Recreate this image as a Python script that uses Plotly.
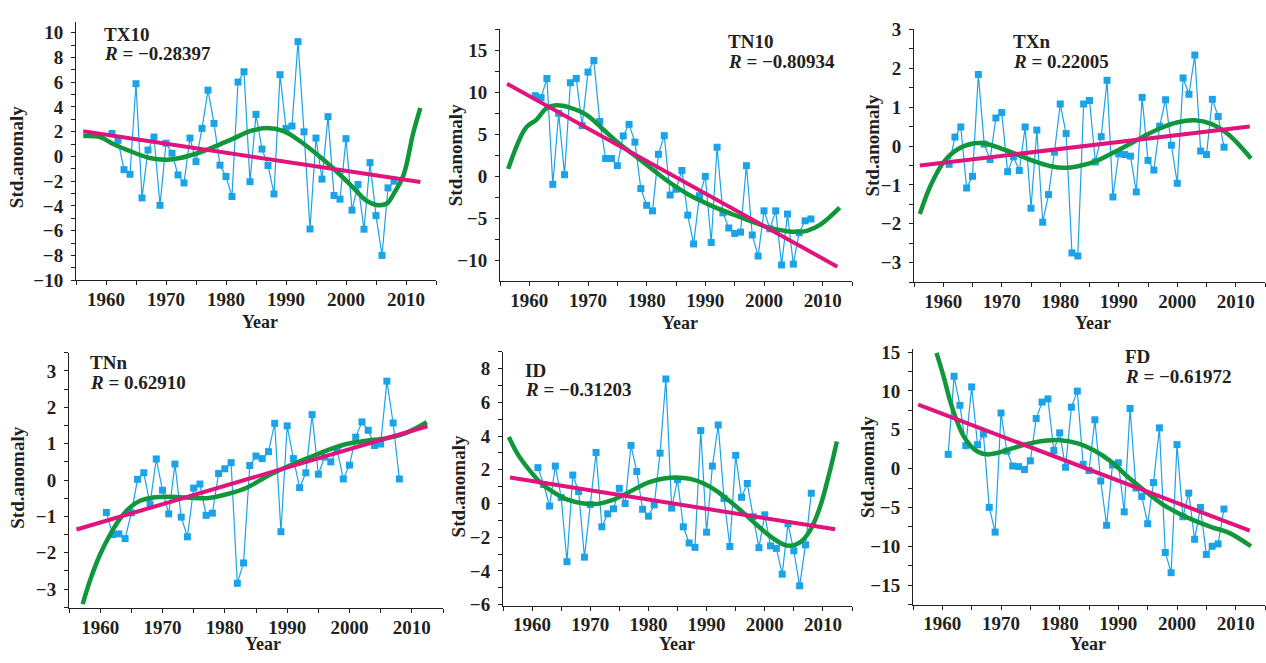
import plotly.graph_objects as go

W, H = 1266, 663

years = list(range(1961, 2009))

tx10 = [1.86, 1.3, -1.07, -1.44, 5.88, -3.35, 0.52, 1.57, -3.95, 1.07,
        0.26, -1.49, -2.14, 1.49, -0.42, 2.27, 5.36, 2.67, -0.7, -1.62,
        -3.24, 6.01, 6.85, -2.04, 3.4, 0.6, -0.73, -3.03, 6.61, 2.27,
        2.46, 9.28, 1.99, -5.86, 1.49, -1.83, 3.22, -3.16, -3.45, 1.44,
        -4.34, -2.27, -5.88, -0.5, -4.78, -8.0, -2.54, -2.0]
tn10 = [9.62, 9.39, 11.66, -0.92, 7.52, 0.23, 11.16, 11.66, 6.06, 12.42,
        13.8, 6.56, 2.15, 2.15, 1.3, 4.83, 6.21, 4.1, -1.42, -3.41,
        -4.07, 2.65, 4.87, -2.19, -1.5, 0.73, -4.57, -8.0, -2.27, 0.03,
        -7.83, 3.49, -4.3, -6.1, -6.75, -6.6, 1.3, -6.94, -9.44, -4.07,
        -6.2, -4.07, -10.5, -4.45, -10.4, -6.67, -5.25, -5.03]
txn = [-0.47, 0.23, 0.49, -1.08, -0.78, 1.84, 0.05, -0.35, 0.72, 0.86,
       -0.66, -0.28, -0.63, 0.49, -1.6, 0.41, -1.96, -1.25, -0.16, 1.08,
       0.32, -2.75, -2.83, 1.08, 1.17, -0.41, 0.24, 1.69, -1.31, -0.2,
       -0.22, -0.26, -1.18, 1.25, -0.37, -0.62, 0.51, 1.19, 0.02, -0.96,
       1.75, 1.33, 2.34, -0.13, -0.22, 1.2, 0.76, -0.03]
tnn = [-0.89, -1.5, -1.48, -1.61, -0.9, 0.02, 0.2, -0.66, 0.58, -0.28,
       -0.93, 0.44, -1.02, -1.56, -0.22, -0.11, -0.97, -0.91, 0.18, 0.31,
       0.48, -2.84, -2.28, 0.4, 0.66, 0.59, 0.78, 1.56, -1.42, 1.49,
       0.59, -0.21, 0.2, 1.8, 0.16, 0.63, 0.5, 0.85, 0.03, 0.41,
       1.18, 1.6, 1.37, 0.95, 0.99, 2.72, 1.57, 0.03]
id_ = [2.13, 1.13, -0.15, 2.22, 0.36, -3.45, 1.69, 0.71, -3.18, -0.06,
       3.03, -1.38, -0.61, -0.31, 0.9, 0.0, 3.45, 1.9, -0.34, -0.75,
       -0.08, 2.99, 7.39, -0.27, 1.42, -1.38, -2.34, -2.6, 4.33, -1.7,
       2.22, 4.66, 0.3, -2.55, 2.86, 0.37, 1.19, -0.78, -2.62, -0.67,
       -2.51, -2.66, -4.19, -1.2, -2.8, -4.88, -2.45, 0.61]
fd = [1.83, 11.88, 8.14, 2.95, 10.51, 3.07, 4.45, -4.99, -8.18, 7.15,
      2.24, 0.33, 0.25, -0.12, 1.0, 6.44, 8.56, 8.97, 2.33, 4.6,
      0.17, 7.9, 9.97, 0.55, -0.25, 6.28, -1.6, -7.3, 0.46, 0.75,
      -5.57, 7.73, -2.5, -3.6, -7.1, -1.8, 5.24, -10.8, -13.4, 3.08,
      -6.2, -3.15, -9.1, -5.0, -11.05, -10.0, -9.7, -5.2]

# linear trend endpoints
tx10_trend_x = [1956.2, 2012.4]; tx10_trend_y = [2.04, -2.07]
tn10_trend_x = [1956.2, 2012.5]; tn10_trend_y = [11.04, -10.7]
txn_trend_x = [1956.0, 2012.4]; txn_trend_y = [-0.5, 0.5]
tnn_trend_x = [1956.2, 2012.5]; tnn_trend_y = [-1.36, 1.48]
id_trend_x = [1956.2, 2012.1]; id_trend_y = [1.55, -1.53]
fd_trend_x = [1955.9, 2012.4]; fd_trend_y = [8.23, -7.98]

# smooth (polynomial) fit curves
tx10_fit_x = [1956.2, 1959.0, 1961.2, 1964.5, 1967.3, 1970.1, 1972.3, 1975.7, 1978.4, 1981.2,
              1984.0, 1986.8, 1989.6, 1992.3, 1995.1, 1997.9, 2000.7, 2003.4, 2005.1, 2006.8,
              2007.9, 2009.6, 2011.2, 2012.4]
tx10_fit_y = [1.65, 1.57, 1.0, 0.34, -0.13, -0.26, -0.13, 0.34, 0.86, 1.44,
              2.04, 2.3, 2.04, 1.25, 0.2, -0.97, -2.27, -3.58, -3.92, -3.8,
              -3.06, -1.49, 1.9, 3.92]
tn10_fit_x = [1956.4, 1959.4, 1961.2, 1962.9, 1964.6, 1966.9, 1969.8, 1972.6, 1975.4, 1978.3,
              1981.1, 1984.0, 1986.8, 1989.7, 1992.5, 1995.4, 1998.2, 2001.0, 2003.9, 2005.6,
              2007.3, 2009.6, 2012.9]
tn10_fit_y = [0.92, 5.8, 6.75, 8.1, 8.47, 8.2, 7.32, 5.6, 3.87, 2.34,
              0.8, -0.73, -2.0, -3.03, -3.9, -4.68, -5.4, -6.1, -6.48, -6.56,
              -6.44, -5.7, -3.68]
txn_fit_x = [1956.0, 1957.8, 1960.1, 1962.4, 1965.3, 1967.0, 1969.8, 1972.7, 1975.5, 1978.4,
             1980.7, 1983.0, 1985.8, 1988.7, 1991.5, 1994.4, 1997.3, 2000.1, 2003.0, 2005.8,
             2008.7, 2012.6]
txn_fit_y = [-1.75, -1.03, -0.41, -0.09, 0.07, 0.07, -0.06, -0.22, -0.39, -0.52,
             -0.56, -0.52, -0.41, -0.2, 0.02, 0.26, 0.47, 0.61, 0.66, 0.57,
             0.3, -0.32]
tnn_fit_x = [1957.2, 1958.4, 1960.0, 1961.6, 1963.2, 1964.8, 1966.4, 1968.5, 1970.7, 1973.9,
             1977.1, 1980.3, 1983.5, 1986.7, 1989.9, 1993.1, 1996.3, 1999.5, 2002.7, 2005.9,
             2009.1, 2012.4]
tnn_fit_y = [-3.41, -2.75, -2.04, -1.5, -1.06, -0.75, -0.57, -0.48, -0.46, -0.48,
             -0.5, -0.39, -0.21, 0.1, 0.36, 0.59, 0.81, 0.99, 1.08, 1.15,
             1.3, 1.59]
id_fit_x = [1956.0, 1957.5, 1959.3, 1961.5, 1963.8, 1966.1, 1968.9, 1971.2, 1973.5, 1975.8,
            1978.1, 1980.3, 1982.6, 1984.9, 1987.2, 1989.5, 1991.7, 1994.0, 1996.3, 1998.6,
            2000.9, 2003.1, 2004.3, 2006.0, 2007.7, 2009.4, 2011.1, 2012.4]
id_fit_y = [3.95, 2.95, 2.09, 1.23, 0.65, 0.23, 0.0, -0.02, 0.17, 0.52,
            0.94, 1.28, 1.48, 1.55, 1.46, 1.19, 0.75, 0.13, -0.54, -1.26,
            -1.93, -2.41, -2.51, -2.32, -1.65, -0.31, 1.8, 3.68]
fd_fit_x = [1959.0, 1960.2, 1961.3, 1962.5, 1963.6, 1964.8, 1965.9, 1967.6, 1969.3, 1971.6,
            1974.5, 1977.4, 1980.2, 1983.1, 1985.9, 1988.8, 1991.7, 1994.5, 1997.4, 2000.3,
            2003.1, 2006.0, 2008.9, 2012.6]
fd_fit_y = [14.9, 11.9, 8.77, 6.07, 4.2, 2.95, 2.24, 1.83, 2.0, 2.53,
            3.16, 3.57, 3.66, 3.24, 2.33, 0.87, -1.12, -2.87, -4.53, -5.77,
            -6.73, -7.56, -8.27, -10.0]

names = ["TX10", "TN10", "TXn", "TNn", "ID", "FD"]
r_labels = ["\u22120.28397", "\u22120.80934", "0.22005", "0.62910", "\u22120.31203", "\u22120.61972"]

series = [tx10, tn10, txn, tnn, id_, fd]
trends = [(tx10_trend_x, tx10_trend_y), (tn10_trend_x, tn10_trend_y), (txn_trend_x, txn_trend_y),
          (tnn_trend_x, tnn_trend_y), (id_trend_x, id_trend_y), (fd_trend_x, fd_trend_y)]
fits = [(tx10_fit_x, tx10_fit_y), (tn10_fit_x, tn10_fit_y), (txn_fit_x, txn_fit_y),
        (tnn_fit_x, tnn_fit_y), (id_fit_x, id_fit_y), (fd_fit_x, fd_fit_y)]

y_ranges = [[-10, 10.9], [-12.42, 17.5], [-3.5, 3.0], [-3.53, 3.5], [-6.05, 9.0], [-17.5, 15.4]]
y_dticks = [2, 5, 1, 1, 2, 5]
y_tick0 = [-10, -10, -3, -3, -6, -15]

# panel boxes in pixels: x0, x1, ytop, ybottom
boxes = [(76, 436, 12, 279), (500, 852, 20, 280), (914, 1265, 20, 281),
         (69, 443, 354, 618), (503, 852, 353, 615), (913, 1265, 350, 614)]

# label positions in pixels
name_pos = [(102, 25, 45), (726, 33, 53), (1011, 33, 53), (88, 364, 385), (523, 372, 392), (1123, 358, 378)]
ylab_pos = [(16, 152), (455, 150), (873, 140), (18, 483), (458, 492), (867, 472)]
xlab_pos = [(260, 322), (680, 323), (1093, 323), (263, 655), (677, 655), (1088, 655)]

FONT = "Liberation Serif"
TXT = "#231f20"
BLUE = "#1aa3e8"
PINK = "#e0147c"
GREEN = "#10973b"

fig = go.Figure()
annotations = []

def fx(p):
    return p / W

def fy(p):
    return 1 - p / H

for i in range(6):
    xa = "x" if i == 0 else f"x{i+1}"
    ya = "y" if i == 0 else f"y{i+1}"
    fig.add_trace(go.Scatter(x=years, y=series[i], mode="lines+markers",
                             line=dict(color=BLUE, width=1.2),
                             marker=dict(symbol="square", size=7, color=BLUE),
                             xaxis=xa, yaxis=ya, showlegend=False, cliponaxis=False))
    fig.add_trace(go.Scatter(x=fits[i][0], y=fits[i][1], mode="lines",
                             line=dict(color=GREEN, width=4.5, shape="spline", smoothing=1.0),
                             xaxis=xa, yaxis=ya, showlegend=False, cliponaxis=False))
    fig.add_trace(go.Scatter(x=trends[i][0], y=trends[i][1], mode="lines",
                             line=dict(color=PINK, width=4),
                             xaxis=xa, yaxis=ya, showlegend=False, cliponaxis=False))

    x0, x1, yt, yb = boxes[i]
    axname_x = "xaxis" if i == 0 else f"xaxis{i+1}"
    axname_y = "yaxis" if i == 0 else f"yaxis{i+1}"
    fig.update_layout(**{
        axname_x: dict(domain=[fx(x0), fx(x1)], anchor=ya, range=[1955, 2015],
                       tickmode="linear", tick0=1960, dtick=10,
                       ticks="outside", ticklen=4, tickcolor=TXT, tickwidth=1,
                       minor=dict(ticks="outside", ticklen=4, dtick=5, tick0=1955, tickcolor=TXT),
                       showline=True, linecolor=TXT, linewidth=1,
                       showgrid=False, zeroline=False,
                       tickfont=dict(family=FONT, size=19, color=TXT, weight="bold"),
                       ticklabelstandoff=-2),
        axname_y: dict(domain=[fy(yb), fy(yt)], anchor=xa, range=y_ranges[i],
                       tickmode="linear", tick0=y_tick0[i], dtick=y_dticks[i],
                       ticks="outside", ticklen=4, tickcolor=TXT, tickwidth=1,
                       minor=dict(ticks="outside", ticklen=4, dtick=y_dticks[i] / 2, tickcolor=TXT),
                       showline=True, linecolor=TXT, linewidth=1,
                       showgrid=False, zeroline=False,
                       tickfont=dict(family=FONT, size=19, color=TXT, weight="bold"),
                       ticklabelstandoff=4),
    })

    nx, ny1, ny2 = name_pos[i]
    annotations.append(dict(text=f"<b>{names[i]}</b>", x=fx(nx), y=fy(ny1), xref="paper", yref="paper",
                            xanchor="left", yanchor="middle", showarrow=False,
                            font=dict(family=FONT, size=19, color=TXT)))
    annotations.append(dict(text=f"<b><i>R</i> = {r_labels[i]}</b>", x=fx(nx), y=fy(ny2),
                            xref="paper", yref="paper", xanchor="left", yanchor="middle", showarrow=False,
                            font=dict(family=FONT, size=19, color=TXT)))
    lx, ly = ylab_pos[i]
    annotations.append(dict(text="<b>Std.anomaly</b>", x=fx(lx), y=fy(ly), xref="paper", yref="paper",
                            xanchor="center", yanchor="middle", textangle=-90, showarrow=False,
                            font=dict(family=FONT, size=19, color=TXT)))
    kx, ky = xlab_pos[i]
    annotations.append(dict(text="<b>Year</b>", x=fx(kx), y=fy(ky), xref="paper", yref="paper",
                            xanchor="center", yanchor="middle", showarrow=False,
                            font=dict(family=FONT, size=18, color=TXT)))

fig.update_layout(width=W, height=H, autosize=False,
                  margin=dict(l=0, r=0, t=0, b=0),
                  paper_bgcolor="white", plot_bgcolor="white",
                  annotations=annotations)

fig.write_html("out.html", config={"displayModeBar": False},
               post_script="document.body.style.margin='0px';document.body.style.overflow='hidden';")
